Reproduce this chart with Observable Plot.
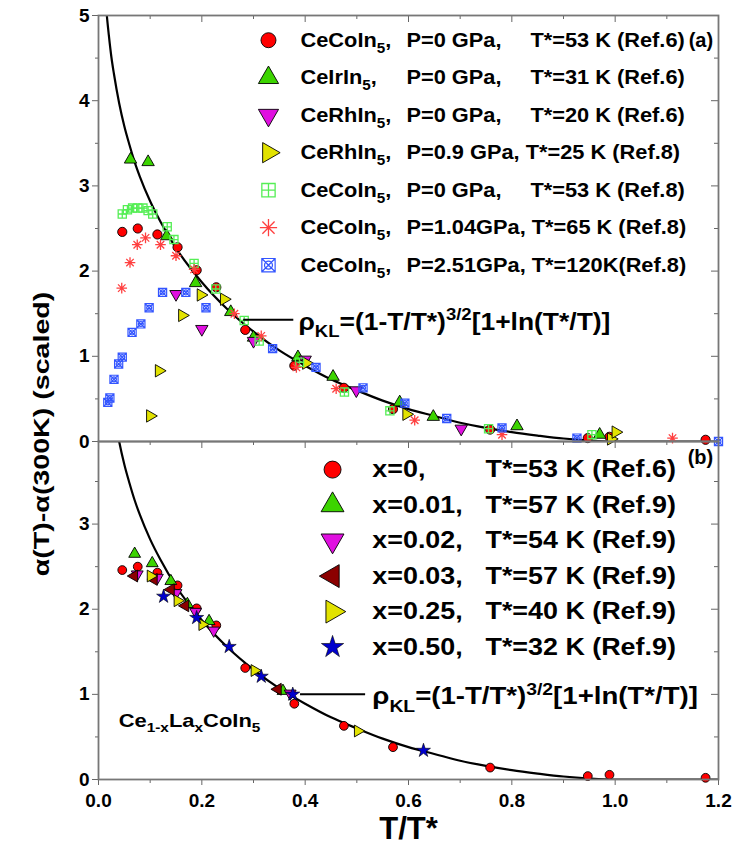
<!DOCTYPE html>
<html><head><meta charset="utf-8">
<script src="https://cdn.jsdelivr.net/npm/d3@7"></script>
<script src="https://cdn.jsdelivr.net/npm/@observablehq/plot@0.6"></script>
<style>
body{margin:0;background:#fff;}
#wrap{position:relative;width:735px;height:856px;overflow:hidden;font-family:"Liberation Sans",Arial,sans-serif;}
#wrap svg{position:absolute;left:0;}
#ylab{position:absolute;left:42px;top:434px;transform:translate(-50%,-50%) rotate(-90deg) scale(1.3,1);white-space:nowrap;font-size:22px;font-weight:bold;line-height:1;font-family:"Liberation Sans",Arial,sans-serif;}
</style></head>
<body><div id="wrap"><div id="ylab">α(T)-α(300K) (scaled)</div></div>
<script>
// ---------------- data ----------------
// theoretical curve rho_KL
const curveT   = [0.012,0.016,0.02,0.025,0.03,0.04,0.05,0.06,0.07,0.08,0.10,0.12,0.15,0.20,0.25,0.30,0.35,0.40,0.45,0.50,0.55,0.60,0.65,0.70,0.75,0.80,0.85,0.90,0.95,1.00,1.20];
const curveRho = [5.33,5.01,4.77,4.51,4.31,3.97,3.70,3.48,3.28,3.11,2.82,2.58,2.27,1.87,1.55,1.29,1.07,0.89,0.73,0.60,0.48,0.38,0.30,0.22,0.16,0.11,0.07,0.035,0.012,0,0];

// panel (a)
const ceCo6X = [0.046,0.076,0.114,0.153,0.190,0.228,0.284,0.379,0.475,0.570,0.758,0.947,0.989,1.175];
const ceCo6Y = [2.46,2.50,2.43,2.28,2.01,1.81,1.31,0.89,0.63,0.38,0.14,0.04,0.055,0.02];
const ceIrX = [0.062,0.096,0.132,0.188,0.256,0.300,0.386,0.454,0.583,0.648,0.810,0.970];
const ceIrY = [3.31,3.28,2.41,1.86,1.52,1.22,0.99,0.76,0.46,0.29,0.18,0.08];
const ceRh0X = [0.150,0.200,0.300,0.400,0.499,0.702];
const ceRh0Y = [1.73,1.32,1.18,0.96,0.60,0.15];
const ceRh09X = [0.100,0.117,0.162,0.198,0.243,0.402,0.596,0.992,1.001];
const ceRh09Y = [0.30,0.83,1.48,1.72,1.67,0.92,0.32,0.03,0.11];
const ceCo8X = [0.046,0.056,0.066,0.076,0.086,0.096,0.105,0.133,0.146,0.185,0.227,0.282,0.311,0.389,0.476,0.564,0.755,0.955];
const ceCo8Y = [2.67,2.72,2.74,2.74,2.74,2.71,2.67,2.52,2.37,2.09,1.79,1.42,1.18,0.93,0.58,0.36,0.15,0.08];
const ceCo104X = [0.045,0.061,0.075,0.091,0.120,0.150,0.185,0.263,0.315,0.383,0.460,0.612,0.781,1.111];
const ceCo104Y = [1.80,2.10,2.31,2.39,2.31,2.18,2.02,1.50,1.24,0.87,0.62,0.25,0.08,0.04];
const ceCo251X = [0.018,0.022,0.030,0.039,0.046,0.065,0.082,0.098,0.124,0.169,0.208,0.337,0.421,0.512,0.593,0.674,0.781,0.926,1.200];
const ceCo251Y = [0.46,0.51,0.73,0.91,0.99,1.28,1.38,1.57,1.75,1.75,1.57,1.09,0.87,0.63,0.45,0.27,0.16,0.04,0.0];

// panel (b): Ce1-xLaxCoIn5 (x=0 is the CeCoIn5 Ref.6 set)
const la001X = [0.070,0.104,0.140,0.172,0.214,0.357];
const la001Y = [2.65,2.54,2.33,2.06,1.86,1.04];
const la002X = [0.075,0.114,0.150,0.188,0.223,0.371];
const la002Y = [2.41,2.37,2.19,1.97,1.75,1.01];
const la003X = [0.069,0.107,0.140,0.168,0.347];
const la003Y = [2.39,2.35,2.23,2.04,1.06];
const la025X = [0.101,0.153,0.201,0.302,0.502];
const la025Y = [2.39,2.10,1.82,1.28,0.57];
const la050X = [0.126,0.190,0.253,0.315,0.376,0.629];
const la050Y = [2.15,1.90,1.56,1.21,1.00,0.34];

// legend texts
const topNames = ["CeCoIn_{5},","CeIrIn_{5},","CeRhIn_{5},","CeRhIn_{5},","CeCoIn_{5},","CeCoIn_{5},","CeCoIn_{5},"];
const topPressures = ["P=0 GPa,","P=0 GPa,","P=0 GPa,","P=0.9 GPa,","P=0 GPa,","P=1.04GPa,","P=2.51GPa,"];
const topTstars = ["T*=53 K (Ref.6)","T*=31 K (Ref.6)","T*=20 K (Ref.6)","T*=25 K (Ref.8)","T*=53 K (Ref.8)","T*=65 K (Ref.8)","T*=120K(Ref.8)"];
const botXs = ["x=0,","x=0.01,","x=0.02,","x=0.03,","x=0.25,","x=0.50,"];
const botTstars = ["T*=53 K (Ref.6)","T*=57 K (Ref.9)","T*=54 K (Ref.9)","T*=57 K (Ref.9)","T*=40 K (Ref.9)","T*=32 K (Ref.9)"];
const formulaText = "ρ_{KL}=(1-T/T*)^{3/2}[1+ln(T*/T)]";
const sampleText = "Ce_{1-x}La_{x}CoIn_{5}";

// tick values / labels
const xMajor = [0,0.2,0.4,0.6,0.8,1.0,1.2];
const xMinor = [0.1,0.3,0.5,0.7,0.9,1.1];
const yMajorA = [0,1,2,3,4,5];
const yMinorA = [0.5,1.5,2.5,3.5,4.5];
const yMajorB = [0,1,2,3];
const yMinorB = [0.5,1.5,2.5,3.5];

// ---------------- styles / layout ----------------
const FONT = '"Liberation Sans", Arial, sans-serif';
const TICK = "#666";
const FRAME = "#777";
const pts = (xs, ys) => xs.map((x, i) => ({x, y: ys[i]}));
const curve = pts(curveT, curveRho);

const squarePlus = {draw(c, size) {const h = Math.sqrt(size) / 2;
  c.moveTo(-h,-h); c.lineTo(h,-h); c.lineTo(h,h); c.lineTo(-h,h); c.closePath();
  c.moveTo(0,-h); c.lineTo(0,h); c.moveTo(-h,0); c.lineTo(h,0);}};
const asterisk8 = {draw(c, size) {const r = Math.sqrt(size / Math.PI) * 1.15;
  for (let k = 0; k < 4; k++) {const a = k * Math.PI / 4;
    c.moveTo(-r*Math.cos(a), -r*Math.sin(a)); c.lineTo(r*Math.cos(a), r*Math.sin(a));}}};
const squareXO = {draw(c, size) {const h = Math.sqrt(size) / 2;
  c.moveTo(-h,-h); c.lineTo(h,-h); c.lineTo(h,h); c.lineTo(-h,h); c.closePath();
  c.moveTo(-h,-h); c.lineTo(h,h); c.moveTo(h,-h); c.lineTo(-h,h);
  const r = h * 0.6; c.moveTo(r, 0); c.arc(0, 0, r, 0, 2 * Math.PI);}};

const sRed   = {symbol: "circle", fill: "#ff0000", stroke: "#000", strokeWidth: 0.9};
const sGreen = {symbol: "triangle", fill: "#3cd400", stroke: "#000", strokeWidth: 0.9};
const sMag   = {symbol: "triangle", rotate: 180, fill: "#e010e0", stroke: "#000", strokeWidth: 0.9};
const sYel   = {symbol: "triangle", rotate: 90, fill: "#e2e200", stroke: "#000", strokeWidth: 0.9};
const sSqP   = {symbol: squarePlus, fill: "none", stroke: "#55ee55", strokeWidth: 1.3};
const sAst   = {symbol: asterisk8, fill: "none", stroke: "#ff4040", strokeWidth: 1.3};
const sBlue  = {symbol: squareXO, fill: "none", stroke: "#3355ff", strokeWidth: 1.2};
const sDkRed = {symbol: "triangle", rotate: -90, fill: "#8b0000", stroke: "#000", strokeWidth: 0.9};
const sStar  = {symbol: "star", fill: "#0000cc", stroke: "#000", strokeWidth: 0.6};

const seriesA = [
  [pts(ceCo6X, ceCo6Y), sRed], [pts(ceIrX, ceIrY), sGreen], [pts(ceRh0X, ceRh0Y), sMag],
  [pts(ceRh09X, ceRh09Y), sYel], [pts(ceCo8X, ceCo8Y), sSqP], [pts(ceCo104X, ceCo104Y), sAst],
  [pts(ceCo251X, ceCo251Y), sBlue]];
const seriesB = [
  [pts(ceCo6X, ceCo6Y), sRed], [pts(la001X, la001Y), sGreen], [pts(la002X, la002Y), sMag],
  [pts(la003X, la003Y), sDkRed], [pts(la025X, la025Y), sYel], [pts(la050X, la050Y), sStar]];
const legendRB = [8.5, 8.5, 8.5, 8.5, 8.5, 7];

const W = 735, ML = 98, MR = 17;
const innerW = W - ML - MR;

function frameTicks(innerH, yMaj, yMin) {
  return [
    Plot.ruleX(xMajor, {stroke: TICK, insetBottom: innerH - 7}),
    Plot.ruleX(xMinor, {stroke: TICK, insetBottom: innerH - 4}),
    Plot.ruleY(yMaj, {stroke: TICK, insetLeft: innerW - 7}),
    Plot.ruleY(yMin, {stroke: TICK, insetLeft: innerW - 4}),
    Plot.axisY(yMaj, {anchor: "left", tickSize: 6, tickPadding: 3, stroke: TICK, tickFormat: d => d.toFixed(0), label: null}),
    Plot.axisY(yMin, {anchor: "left", tickSize: 3, stroke: TICK, tickFormat: () => "", label: null}),
  ];
}
function dots(series, r) {
  return series.map(([data, s]) => Plot.dot(data, {x: "x", y: "y", r, ...s}));
}

// ---------------- panel (a) ----------------
const HA = 462, MTA = 15, MBA = 21, innerHA = HA - MTA - MBA;
const LA = {mx: 0.329, nx: 0.391, px: 0.596, tx: 0.836, y0: 4.71, dy: 0.44};
const rowA = i => LA.y0 - i * LA.dy;
const longP = s => s.length > 8;
const topPCol = topPressures.map((p, i) => longP(p) ? p + " " + topTstars[i] : p);

const plotA = Plot.plot({
  width: W, height: HA, marginLeft: ML, marginRight: MR, marginTop: MTA, marginBottom: MBA,
  x: {domain: [0, 1.2], axis: null, label: null},
  y: {domain: [0, 5], axis: null, label: null},
  style: {background: "transparent", fontFamily: FONT, fontWeight: "bold", fontSize: "19px", color: "#000"},
  marks: [
    ...frameTicks(innerHA, yMajorA, yMinorA),
    Plot.line(curve, {x: "x", y: "y", curve: "monotone-x", stroke: "#000", strokeWidth: 2.2, clip: true}),
    ...dots(seriesA, 4.6),
    Plot.ruleY([1.43], {x1: 0.281, x2: 0.378, stroke: "#000", strokeWidth: 2}),
    Plot.text([formulaText], {x: () => 0.387, y: () => 1.40, text: d => d, textAnchor: "start", lineAnchor: "middle", fontSize: 23}),
    ...seriesA.map(([, s], i) => Plot.dot([i], {x: () => LA.mx, y: () => rowA(i), r: 7.5, ...s})),
    Plot.text(d3.range(7), {x: () => LA.nx, y: i => rowA(i), text: i => topNames[i], textAnchor: "start", lineAnchor: "middle", fontSize: 20}),
    Plot.text(d3.range(7), {x: () => LA.px, y: i => rowA(i), text: i => topPCol[i], textAnchor: "start", lineAnchor: "middle", fontSize: 20}),
    Plot.text(d3.range(7).filter(i => !longP(topPressures[i])), {x: () => LA.tx, y: i => rowA(i), text: i => topTstars[i], textAnchor: "start", lineAnchor: "middle", fontSize: 20}),
    Plot.text(["(a)"], {x: () => 1.166, y: () => 4.71, text: d => d, lineAnchor: "middle", fontSize: 20}),
    Plot.frame({stroke: FRAME, strokeWidth: 1.8})
  ]
});

// ---------------- panel (b) ----------------
const HB = 424, MTB = 9, MBB = 77, innerHB = HB - MTB - MBB;
const LB = {mx: 0.453, xx: 0.530, tx: 0.749, y0: 3.64, dy: 0.417};
const rowB = i => LB.y0 - i * LB.dy;

const plotB = Plot.plot({
  width: W, height: HB, marginLeft: ML, marginRight: MR, marginTop: MTB, marginBottom: MBB,
  x: {domain: [0, 1.2], axis: null, label: null},
  y: {domain: [0, 3.97], axis: null, label: null},
  style: {background: "transparent", fontFamily: FONT, fontWeight: "bold", fontSize: "19px", color: "#000"},
  marks: [
    ...frameTicks(innerHB, yMajorB, yMinorB),
    Plot.axisX(xMajor, {anchor: "bottom", tickSize: 6, tickPadding: 8, stroke: TICK, tickFormat: d => d.toFixed(1), label: null}),
    Plot.axisX(xMinor, {anchor: "bottom", tickSize: 4, stroke: TICK, tickFormat: () => "", label: null}),
    Plot.line(curve, {x: "x", y: "y", curve: "monotone-x", stroke: "#000", strokeWidth: 2.2, clip: true}),
    ...dots(seriesB, 4.4),
    Plot.ruleY([1.0], {x1: 0.391, x2: 0.517, stroke: "#000", strokeWidth: 2}),
    Plot.text([formulaText], {x: () => 0.530, y: () => 0.97, text: d => d, textAnchor: "start", lineAnchor: "middle", fontSize: 23}),
    Plot.text([sampleText], {x: () => 0.039, y: () => 0.69, text: d => d, textAnchor: "start", lineAnchor: "middle", fontSize: 18}),
    ...seriesB.map(([, s], i) => Plot.dot([i], {x: () => LB.mx, y: () => rowB(i), r: legendRB[i], ...s})),
    Plot.text(d3.range(6), {x: () => LB.xx, y: i => rowB(i), text: i => botXs[i], textAnchor: "start", lineAnchor: "middle", fontSize: 24}),
    Plot.text(d3.range(6), {x: () => LB.tx, y: i => rowB(i), text: i => botTstars[i], textAnchor: "start", lineAnchor: "middle", fontSize: 24}),
    Plot.text(["(b)"], {x: () => 1.165, y: () => 3.78, text: d => d, lineAnchor: "middle", fontSize: 20}),
    Plot.text(["T/T*"], {frameAnchor: "bottom", dy: 59, text: d => d, fontSize: 31}),
    Plot.frame({stroke: FRAME, strokeWidth: 1.8})
  ]
});

// ---------------- text helpers ----------------
function stretchTexts(svg, strings, sx) {
  const set = new Set(strings);
  d3.select(svg).selectAll("text").each(function() {
    if (!set.has(this.textContent)) return;
    const tr = this.getAttribute("transform") || "";
    const x = parseFloat(this.getAttribute("x")) || 0;
    this.setAttribute("transform", `${tr} translate(${x},0) scale(${sx},1) translate(${-x},0)`);
  });
}
function rich(svg) {
  d3.select(svg).selectAll("text").each(function() {
    const t = this.textContent;
    if (!/[_^]\{/.test(t)) return;
    const el = d3.select(this); el.text("");
    const re = /([_^])\{([^}]*)\}/g; let last = 0, m; const parts = [];
    while ((m = re.exec(t))) {
      if (m.index > last) parts.push({s: t.slice(last, m.index), k: ""});
      parts.push({s: m[2], k: m[1]}); last = re.lastIndex;
    }
    if (last < t.length) parts.push({s: t.slice(last), k: ""});
    let cur = 0;
    for (const p of parts) {
      const target = p.k === "_" ? 0.32 : p.k === "^" ? -0.42 : 0;
      const ts = el.append("tspan").text(p.s);
      if (p.k) ts.attr("font-size", "70%");
      const d = target - cur;
      if (d) ts.attr("dy", (p.k ? d / 0.7 : d).toFixed(3) + "em");
      cur = target;
    }
  });
}
stretchTexts(plotA, [...topNames, ...topPCol, ...topTstars], 1.09);
stretchTexts(plotA, [formulaText], 1.15);
stretchTexts(plotB, [formulaText], 1.2);
stretchTexts(plotB, [...botXs, ...botTstars], 1.12);
stretchTexts(plotB, [sampleText], 1.22);
for (const svg of [plotA, plotB]) rich(svg);

plotA.style.top = "0px";
plotB.style.top = (441 - MTB) + "px";
const wrap = document.getElementById("wrap");
wrap.appendChild(plotA);
wrap.appendChild(plotB);
</script>
</body></html>
